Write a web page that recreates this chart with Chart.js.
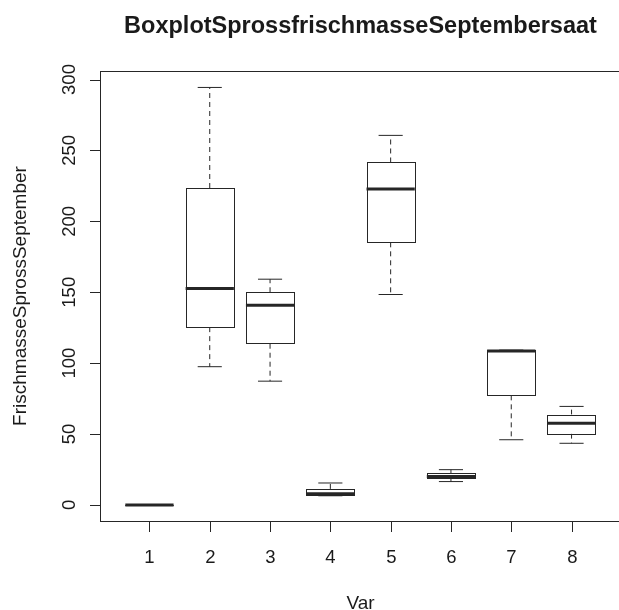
<!DOCTYPE html>
<html>
<head>
<meta charset="utf-8">
<script src="https://cdn.jsdelivr.net/npm/chart.js@4/dist/chart.umd.min.js"></script>
<style>
  html, body { margin: 0; padding: 0; background: #fff; overflow: hidden; }
  #wrap { width: 619px; height: 610px; overflow: hidden; }
</style>
</head>
<body>
<div id="wrap"><canvas id="boxChart" width="640" height="610"></canvas></div>
<script>
const categories = ["1", "2", "3", "4", "5", "6", "7", "8"];
const whiskerLow = [0, 97.5, 87.3, 6.5, 148.4, 16.5, 46, 43.5];
const quartile1 = [0, 125.4, 113.7, 7.3, 185.2, 18.8, 77.3, 50.3];
const medians = [0, 152.6, 140.8, 8, 222.8, 20, 108.5, 57.7];
const quartile3 = [0, 223.5, 150, 11.3, 241.5, 22.5, 109.2, 63.7];
const whiskerHigh = [0, 294.4, 159.2, 15.5, 260.6, 24.9, 109.2, 69.5];
const yTicks = [0, 50, 100, 150, 200, 250, 300];

const titleText = "BoxplotSprossfrischmasseSeptembersaat";
const xTitle = "Var";
const yTitle = "FrischmasseSprossSeptember";

const lineColor = "#262626";
const textColor = "#1a1a1a";
const fontFamily = "'Liberation Sans', Arial, sans-serif";

// draws the R style boxplot, axes and labels from the arrays above
const boxplotPlugin = {
  id: "boxplot",
  afterDatasetsDraw(chart) {
    const ctx = chart.ctx;
    const xScale = chart.scales.x;
    const yScale = chart.scales.y;
    const area = chart.chartArea;
    const halfBox = xScale.getPixelForValue(1.4) - xScale.getPixelForValue(1);
    const halfStaple = halfBox / 2;

    ctx.save();
    ctx.strokeStyle = lineColor;

    categories.forEach((cat, i) => {
      const cx = xScale.getPixelForValue(i + 1);
      const yLow = yScale.getPixelForValue(whiskerLow[i]);
      const yQ1 = yScale.getPixelForValue(quartile1[i]);
      const yMed = yScale.getPixelForValue(medians[i]);
      const yQ3 = yScale.getPixelForValue(quartile3[i]);
      const yHigh = yScale.getPixelForValue(whiskerHigh[i]);

      // whiskers
      ctx.lineWidth = 1;
      ctx.setLineDash([5, 4]);
      ctx.beginPath();
      ctx.moveTo(cx, yQ3);
      ctx.lineTo(cx, yHigh);
      ctx.moveTo(cx, yQ1);
      ctx.lineTo(cx, yLow);
      ctx.stroke();
      ctx.setLineDash([]);

      // staples
      ctx.beginPath();
      ctx.moveTo(cx - halfStaple, yHigh);
      ctx.lineTo(cx + halfStaple, yHigh);
      ctx.moveTo(cx - halfStaple, yLow);
      ctx.lineTo(cx + halfStaple, yLow);
      ctx.stroke();

      // box
      ctx.fillStyle = "#fff";
      ctx.fillRect(cx - halfBox, yQ3, halfBox * 2, yQ1 - yQ3);
      ctx.strokeRect(Math.round(cx - halfBox) + 0.5, Math.round(yQ3) + 0.5,
        Math.round(halfBox * 2), Math.round(yQ1 - yQ3));

      // median
      ctx.lineWidth = 3;
      ctx.beginPath();
      ctx.moveTo(cx - halfBox, yMed);
      ctx.lineTo(cx + halfBox, yMed);
      ctx.stroke();
    });

    // plot frame
    ctx.lineWidth = 1;
    ctx.strokeRect(Math.round(area.left) + 0.5, Math.round(area.top) + 0.5,
      Math.round(area.right - area.left), Math.round(area.bottom - area.top));

    // x axis ticks and labels
    ctx.fillStyle = textColor;
    ctx.font = "18.5px " + fontFamily;
    ctx.textAlign = "center";
    ctx.textBaseline = "alphabetic";
    ctx.beginPath();
    categories.forEach((cat, i) => {
      const px = Math.round(xScale.getPixelForValue(i + 1)) + 0.5;
      ctx.moveTo(px, area.bottom);
      ctx.lineTo(px, area.bottom + 11);
      ctx.fillText(cat, px, 563);
    });
    ctx.stroke();

    // y axis ticks and rotated labels
    ctx.beginPath();
    yTicks.forEach(v => {
      const py = Math.round(yScale.getPixelForValue(v)) + 0.5;
      ctx.moveTo(area.left - 10, py);
      ctx.lineTo(area.left, py);
    });
    ctx.stroke();
    yTicks.forEach(v => {
      const py = yScale.getPixelForValue(v);
      ctx.save();
      ctx.translate(75, py);
      ctx.rotate(-Math.PI / 2);
      ctx.fillText(String(v), 0, 0);
      ctx.restore();
    });

    // axis titles
    const midX = (area.left + area.right) / 2;
    ctx.font = "19px " + fontFamily;
    ctx.fillText(xTitle, midX, 609);
    ctx.save();
    ctx.translate(26, (area.top + area.bottom) / 2);
    ctx.rotate(-Math.PI / 2);
    ctx.fillText(yTitle, 0, 0);
    ctx.restore();

    // main title
    ctx.font = "bold 23.5px " + fontFamily;
    ctx.fillText(titleText, midX, 33);

    ctx.restore();
  }
};

new Chart(document.getElementById("boxChart").getContext("2d"), {
  type: "scatter",
  data: { datasets: [] },
  options: {
    responsive: false,
    animation: false,
    layout: {
      padding: { left: 100, top: 71, right: 19, bottom: 89 }
    },
    plugins: {
      legend: { display: false },
      tooltip: { enabled: false }
    },
    scales: {
      x: { type: "linear", min: 0.18, max: 8.82, display: false },
      y: { type: "linear", min: -11.3, max: 306, display: false }
    }
  },
  plugins: [boxplotPlugin]
});
</script>
</body>
</html>
